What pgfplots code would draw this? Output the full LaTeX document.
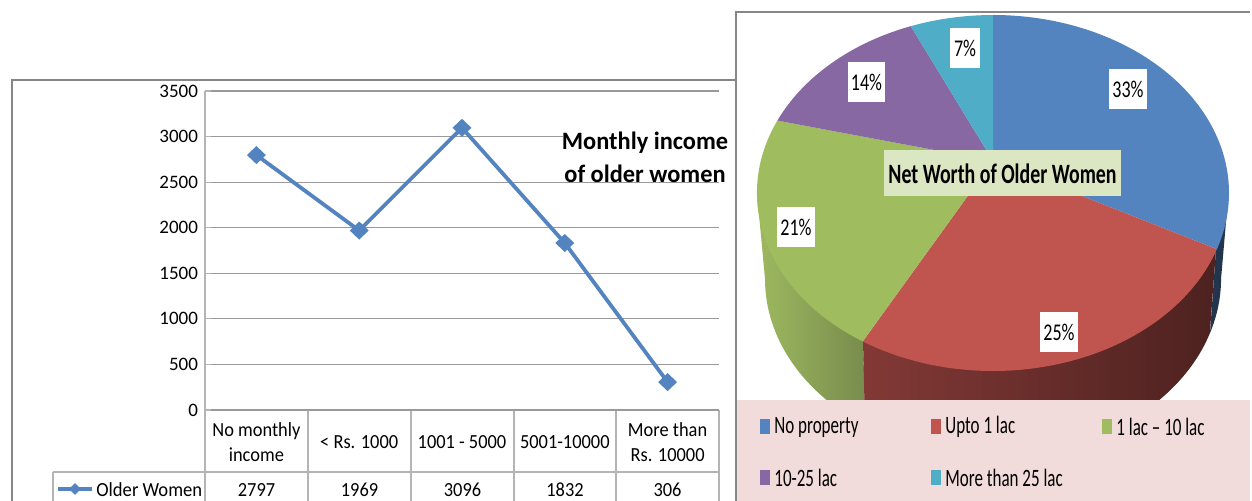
\documentclass[border=0pt]{standalone}
\usepackage{graphicx}
\usepackage{fontspec}
\setmainfont{Carlito}
\usepackage{pgfplots}
\pgfplotsset{compat=1.18}
\definecolor{cBlue}{HTML}{5484BF}
\definecolor{cRed}{HTML}{C0544F}
\definecolor{cGreen}{HTML}{9FBC5E}
\definecolor{cPurple}{HTML}{8768A3}
\definecolor{cTeal}{HTML}{4FADC8}
\definecolor{cFrame}{HTML}{868686}
\definecolor{cTab}{HTML}{B4B4B4}
\definecolor{cPink}{HTML}{F2DCDB}
\definecolor{cTitle}{HTML}{DBE6C3}
\newcommand{\sq}[2][0.88]{\scalebox{#1}[1]{#2}}
\pgfplotsset{canvas/.style={at={(0pt,0pt)},anchor=south west,width=626pt,height=250.5pt,scale only axis,
  xmin=0,xmax=1252,ymin=0,ymax=501,y dir=reverse,hide axis,clip=true}}
\begin{document}
\begin{tikzpicture}
\useasboundingbox (0pt,0pt) rectangle (626pt,250.5pt);
% frame and data table of the line chart
\begin{axis}[canvas]
\draw[cFrame,line width=1pt] (12,510) -- (12,80) -- (736,80);
\draw[cTab,line width=0.6pt] (205,410) -- (719,410);
\draw[cTab,line width=0.6pt] (53,472) -- (719,472);
\foreach \x in {205,308,411,514,616,719} {\edef\tmp{\noexpand\draw[cTab,line width=0.6pt] (\x,410) -- (\x,505);}\tmp}
\draw[cTab,line width=0.6pt] (53,472) -- (53,505);
\draw[cBlue,line width=1.7pt] (58,489) -- (92,489);
\addplot[only marks,mark=diamond*,mark size=2.6pt,color=cBlue,mark options={xscale=1.4}] coordinates {(75,489)};
\def\tf{\fontsize{10}{11}\selectfont}
\node[font=\tf,anchor=base west,inner sep=0] at (96,496) {\sq[0.93]{Older Women}};
\node[font=\tf,anchor=base,inner sep=0] at (256.5,496) {\sq[0.92]{2797}};
\node[font=\tf,anchor=base,inner sep=0] at (359.5,496) {\sq[0.92]{1969}};
\node[font=\tf,anchor=base,inner sep=0] at (462.5,496) {\sq[0.92]{3096}};
\node[font=\tf,anchor=base,inner sep=0] at (565,496) {\sq[0.92]{1832}};
\node[font=\tf,anchor=base,inner sep=0] at (667.5,496) {\sq[0.92]{306}};
\end{axis}
% line chart
\begin{axis}[at={(102.5pt,45.5pt)},anchor=south west,width=257pt,height=159.5pt,scale only axis,
  xmin=0.5,xmax=5.5,ymin=0,ymax=3500,
  ytick={0,500,1000,1500,2000,2500,3000,3500},
  xtick={1,2,3,4,5},
  xticklabels={{\sq[0.92]{No monthly}\\\sq[0.92]{income}},{\sq[0.92]{< Rs. 1000}},{\sq[0.92]{1001 - 5000}},{\sq[0.92]{5001-10000}},{\sq[0.92]{More than}\\\sq[0.92]{Rs. 10000}}},
  x tick label style={align=center,anchor=center,yshift=-16pt,font=\fontsize{10}{12.5}\selectfont},
  y tick label style={font=\fontsize{9.5}{11}\selectfont,/pgf/number format/assume math mode=true,/pgf/number format/fixed,/pgf/number format/1000 sep={}},
  scaled y ticks=false,
  ymajorgrids,
  grid style={color=cTab!85!black,line width=0.6pt},
  axis line style={draw=none},
  axis x line*=bottom,axis y line*=left,
  major tick length=3pt,
  xtick style={draw=none},
  ytick style={cTab,line width=0.6pt},
  clip=false,
]
\addplot[color=cBlue,line width=1.9pt,mark=diamond*,mark size=3.2pt,mark options={fill=cBlue,draw=cBlue,xscale=1.4}]
  coordinates {(1,2797)(2,1969)(3,3096)(4,1832)(5,306)};
\end{axis}
\draw[cTab,line width=0.6pt] (102.5pt,45.5pt) -- (102.5pt,205pt);
% pie panel
\begin{axis}[canvas]
% chart title on its white box, above the grid
\fill[white] (563,128) rectangle (730,180.5);
\node[font=\fontsize{12.5}{16.5}\selectfont,align=center,inner sep=0] at (645,157.5) {\textbf{\sq[0.975]{Monthly income}}\\\textbf{\sq[0.975]{of older women}}};
\fill[white] (736,12) rectangle (1252,501);
% side walls
\path[left color=cGreen!95!gray,right color=cGreen!75!black!90!gray]
  (757,193) -- (765,279) arc[start angle=180,end angle=236,x radius=114pt,y radius=88.5pt] -- (863,341) -- cycle;
\fill[color=cBlue!40!black] (1216,249) -- (1210,333) arc[start angle=-17.9,end angle=0,x radius=114pt,y radius=88.5pt] -- (1228.5,193) -- cycle;
\path[left color=cRed!68!black,middle color=cRed!42!black,right color=cRed!40!black]
  (865,425.6) arc[start angle=-124.1,end angle=-17.9,x radius=114pt,y radius=88.5pt] -- (1216,249) -- (863,341) -- cycle;
% top face, apex seen in perspective at (993,161)
\fill[cBlue] (993,161) -- (993,15) arc[start angle=90,end angle=-18.4,x radius=118pt,y radius=89pt] -- cycle;
\fill[cRed] (993,161) -- (1216.9,249.2) arc[start angle=-18.4,end angle=-123.5,x radius=118pt,y radius=89pt] -- cycle;
\fill[cGreen] (993,161) -- (862.7,341.4) arc[start angle=-123.5,end angle=-204,x radius=118pt,y radius=89pt] -- cycle;
\fill[cPurple] (993,161) -- (777.4,120.6) arc[start angle=-204,end angle=-249.6,x radius=118pt,y radius=89pt] -- cycle;
\fill[cTeal] (993,161) -- (910.7,26.2) arc[start angle=-249.6,end angle=-270,x radius=118pt,y radius=89pt] -- cycle;
% legend
\fill[cPink] (737,400) rectangle (1250,501);
\foreach \x/\y/\c in {760/426/cBlue,931/426/cRed,1102/426/cGreen,760/477/cPurple,931/477/cTeal}
  {\edef\tmp{\noexpand\fill[\c] (\x,\y-7) rectangle (\x+10,\y+8);}\tmp}
\def\lf{\fontsize{12.5}{14}\selectfont}
\node[font=\lf,anchor=west,inner sep=0] at (774,427) {\sq[0.68]{No property}};
\node[font=\lf,anchor=west,inner sep=0] at (945,427) {\sq[0.68]{Upto 1 lac}};
\node[font=\lf,anchor=west,inner sep=0] at (1116,427) {\sq[0.68]{1 lac – 10 lac}};
\node[font=\lf,anchor=west,inner sep=0] at (774,478) {\sq[0.68]{10-25 lac}};
\node[font=\lf,anchor=west,inner sep=0] at (945,478) {\sq[0.68]{More than 25 lac}};
% data labels
\def\pf{\fontsize{12}{13}\selectfont}
\foreach \x/\y/\w/\t in {1128/89/38/33,965/48/30/7,866.5/82/37/14,796/227/38/21,1059/332/38/25}
  {\edef\tmp{\noexpand\fill[white] (\x-\w/2,\y-20) rectangle (\x+\w/2,\y+20);
   \noexpand\node[font=\noexpand\pf,inner sep=0] at (\x,\y) {\noexpand\sq[0.75]{\t\noexpand\%}};}\tmp}
% title
\fill[cTitle] (884,150) rectangle (1121,196);
\node[font=\fontsize{14}{15}\selectfont,inner sep=0] at (1002.5,174) {\textbf{\sq[0.71]{Net Worth of Older Women}}};
% frame
\draw[cFrame,line width=1pt] (736,510) -- (736,12.5) -- (1250,12.5);
\end{axis}
\end{tikzpicture}
\end{document}
